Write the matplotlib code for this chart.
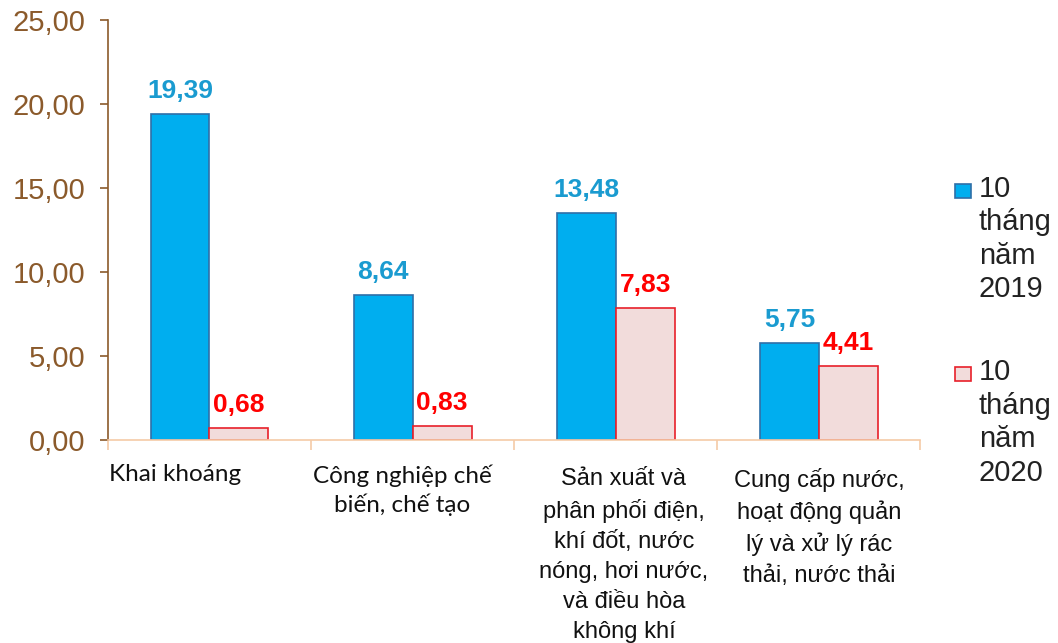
import numpy as np
import matplotlib.pyplot as plt
from matplotlib.patches import Rectangle
from matplotlib.ticker import FuncFormatter

categories = ["Khai khoáng",
              "Công nghiệp chế\nbiến, chế tạo",
              "Sản xuất và\nphân phối điện,\nkhí đốt, nước\nnóng, hơi nước,\nvà điều hòa\nkhông khí",
              "Cung cấp nước,\nhoạt động quản\nlý và xử lý rác\nthải, nước thải"]
series_2019 = [19.39, 8.64, 13.48, 5.75]
series_2020 = [0.68, 0.83, 7.83, 4.41]
legend_labels = ["10\ntháng\nnăm\n2019", "10\ntháng\nnăm\n2020"]
y_ticks = [0, 5, 10, 15, 20, 25]

brown = "#8B5A2B"
blue = "#00AEEF"
blue_edge = "#2F6FA8"
blue_text = "#1A9BD0"
pink = "#F2DCDB"
red = "#E8202A"

fig = plt.figure(figsize=(10.58, 6.43), dpi=100)
ax = fig.add_axes([0.102, 0.316, 0.768, 0.653])

x = np.arange(len(categories))
w = 0.29
b1 = ax.bar(x - w / 2, series_2019, w, color=blue, edgecolor=blue_edge, linewidth=1.2)
b2 = ax.bar(x + w / 2, series_2020, w, color=pink, edgecolor=red, linewidth=1.2)

fmt = lambda v: f"{v:.2f}".replace(".", ",")
for bars, vals, col in [(b1, series_2019, blue_text), (b2, series_2020, "#FF0000")]:
    for rect, v in zip(bars, vals):
        ax.annotate(fmt(v), (rect.get_x() + rect.get_width() / 2, v), xytext=(0, 8),
                    textcoords="offset points", ha="center", va="bottom",
                    fontsize=19, fontweight="bold", color=col, family="Liberation Sans")

ax.set_xlim(-0.5, 3.5)
ax.set_ylim(0, 25)
ax.set_yticks(y_ticks)
ax.yaxis.set_major_formatter(FuncFormatter(lambda v, p: fmt(v)))
ax.tick_params(axis="y", colors=brown, labelsize=21, length=6, width=1.2, pad=10)
for t in ax.get_yticklabels():
    t.set_family("Liberation Sans")

ax.set_xticks(np.arange(-0.5, 4, 1))
ax.set_xticklabels([])
ax.tick_params(axis="x", colors="#F5CBA7", length=7, width=1.2)

for s in ["top", "right"]:
    ax.spines[s].set_visible(False)
ax.spines["left"].set_color(brown)
ax.spines["left"].set_linewidth(1.2)
ax.spines["bottom"].set_color("#F5CBA7")
ax.spines["bottom"].set_linewidth(1.2)

# category labels
label_x = [-0.17, 0.95, 2.04, 3.0]
label_font = ["Lato", "Lato", "Liberation Sans", "Liberation Sans"]
label_size = [17.5, 17.5, 17, 17]
label_ls = [1.35, 1.35, 1.48, 1.48]
label_y = [-1.45, -1.45, -1.65, -1.65]
for xi, yi, txt, fam, sz, ls in zip(label_x, label_y, categories, label_font, label_size, label_ls):
    ax.text(xi, yi, txt, ha="center", va="top", fontsize=sz, family=fam,
            color="#111111", linespacing=ls)

# legend, square aligned with the first text line
legend_colors = [(blue, blue_edge), (pink, red)]
legend_top = [0.728, 0.443]
for lab, (fc, ec), ty in zip(legend_labels, legend_colors, legend_top):
    fig.add_artist(Rectangle((0.903, ty - 0.036), 0.0145, 0.0225, transform=fig.transFigure,
                             facecolor=fc, edgecolor=ec, linewidth=1.2))
    fig.text(0.925, ty, lab, ha="left", va="top", fontsize=21,
             family="Liberation Sans", color="#222222", linespacing=1.25)

fig.savefig("out.png", dpi=100)
